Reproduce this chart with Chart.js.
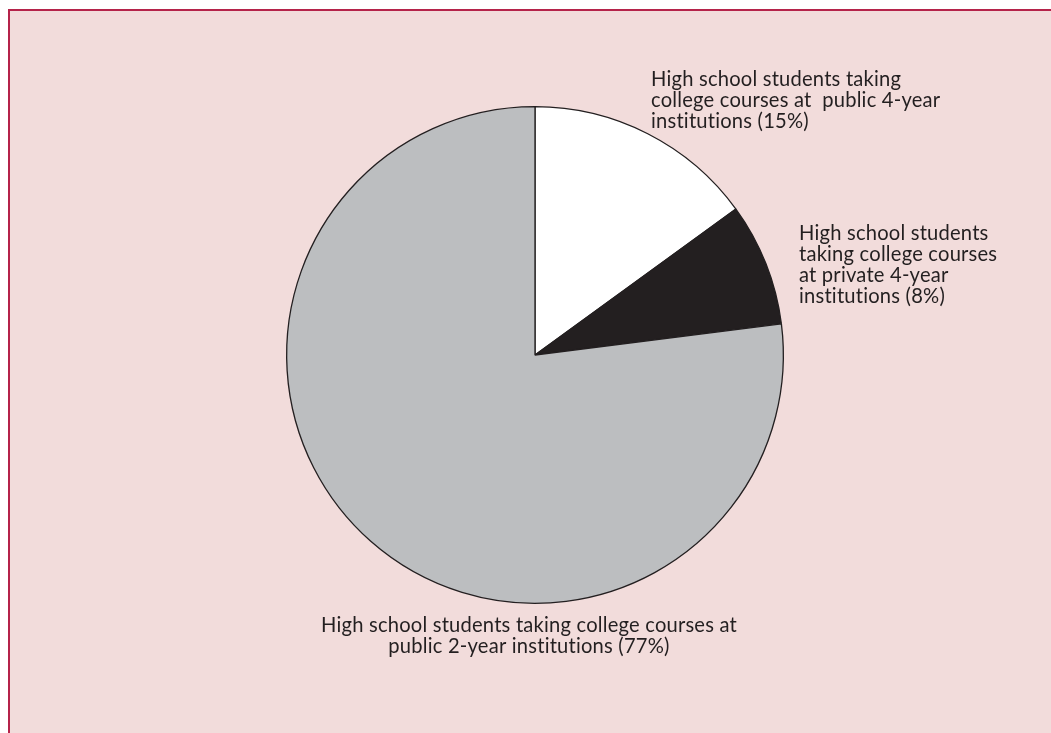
<!DOCTYPE html>
<html>
<head>
<meta charset="utf-8">
<script src="https://cdn.jsdelivr.net/npm/chart.js@4"></script>
<style>
    html, body { margin: 0; padding: 0; background: #ffffff; }
    body { width: 1051px; height: 733px; position: relative; overflow: hidden; }
    .frame {
        position: absolute; left: 8px; top: 9px; right: 0; bottom: 0;
        background: #f2dcdb;
        border-top: 2px solid #b5234a;
        border-left: 2px solid #b5234a;
    }
    #pie { position: absolute; left: 0; top: 0; }
</style>
</head>
<body>
<div class="frame"></div>
<canvas id="pie" width="1051" height="733"></canvas>
<script>
// data, clockwise from 12 o'clock
const categories = [
    'Public 4-year institutions',
    'Private 4-year institutions',
    'Public 2-year institutions'
];
const shares = [15, 8, 77];
const sliceColors = ['#ffffff', '#231f20', '#bcbec0'];

// label text, one entry per line
const labelPublic4 = ['High school students taking', 'college courses at  public 4-year', 'institutions (15%)'];
const labelPrivate4 = ['High school students', 'taking college courses', 'at private 4-year', 'institutions (8%)'];
const labelPublic2 = ['High school students taking college courses at', 'public 2-year institutions (77%)'];

const textColor = '#231f20';

const labelsPlugin = {
    id: 'sliceLabels',
    afterDraw(chart) {
        const ctx = chart.ctx;
        ctx.save();
        // small letter spacing keeps Lato from using its "ti" ligature
        ctx.letterSpacing = '0.2px';
        ctx.font = '100px Lato';
        // size the font so the widest line matches the original (about 409px)
        const size = 100 * 409 / ctx.measureText(labelPublic2[0]).width;
        ctx.font = size.toFixed(2) + 'px Lato';
        ctx.fillStyle = textColor;
        ctx.textBaseline = 'alphabetic';

        const block = (lines, x, y, align) => {
            ctx.textAlign = align;
            lines.forEach((line, i) => ctx.fillText(line, x, y + i * 21));
        };
        block(labelPublic4, 651, 86, 'left');
        block(labelPrivate4, 799, 240, 'left');
        block(labelPublic2, 529, 632, 'center');
        ctx.restore();
    }
};

new Chart(document.getElementById('pie').getContext('2d'), {
    type: 'pie',
    data: {
        labels: categories,
        datasets: [{
            data: shares,
            backgroundColor: sliceColors,
            borderColor: '#231f20',
            borderWidth: 1.3,
            hoverOffset: 0
        }]
    },
    options: {
        responsive: false,
        animation: false,
        events: [],
        layout: {
            padding: { top: 106, bottom: 129, left: 200, right: 181 }
        },
        plugins: {
            legend: { display: false },
            tooltip: { enabled: false },
            title: { display: false }
        }
    },
    plugins: [labelsPlugin]
});
</script>
</body>
</html>
